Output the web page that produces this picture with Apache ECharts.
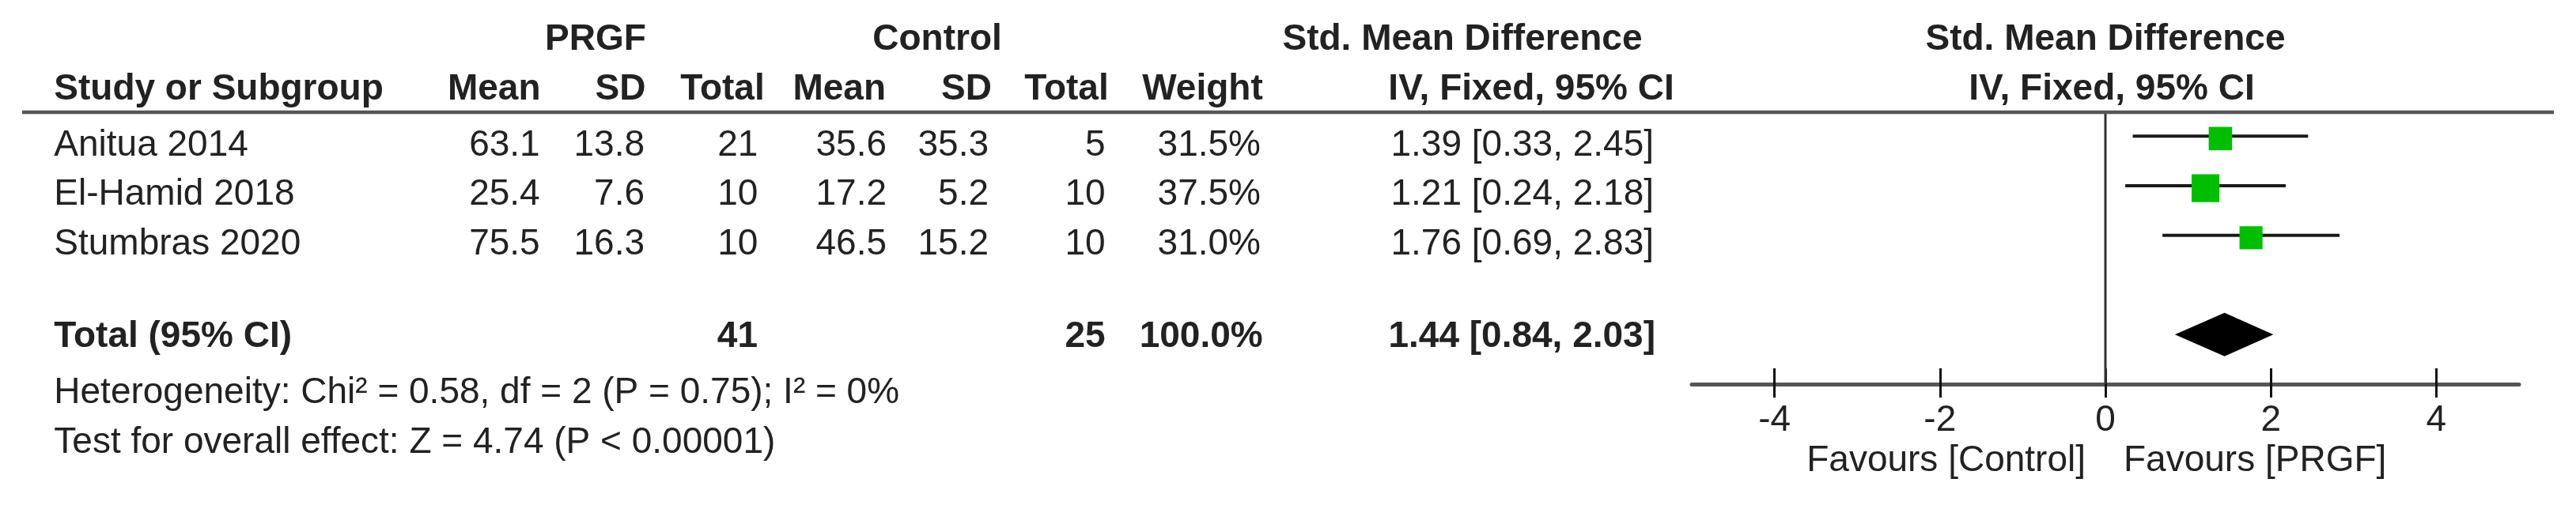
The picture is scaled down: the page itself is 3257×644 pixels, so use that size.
<!DOCTYPE html>
<html>
<head>
<meta charset="utf-8">
<script src="https://cdn.jsdelivr.net/npm/echarts@6/dist/echarts.min.js"></script>
<style>
html,body{margin:0;padding:0;background:#fff;}
#c{width:3257px;height:644px;}
</style>
</head>
<body>
<div id="c"></div>
<script>
// ---------------- DATA ----------------
const studies   = ['Anitua 2014', 'El-Hamid 2018', 'Stumbras 2020'];
const prgfMean  = [63.1, 25.4, 75.5];
const prgfSD    = [13.8, 7.6, 16.3];
const prgfTotal = [21, 10, 10];
const ctrlMean  = [35.6, 17.2, 46.5];
const ctrlSD    = [35.3, 5.2, 15.2];
const ctrlTotal = [5, 10, 10];
const weights   = [31.5, 37.5, 31.0];
const smd       = [1.39, 1.21, 1.76];
const ciLow     = [0.33, 0.24, 0.69];
const ciHigh    = [2.45, 2.18, 2.83];

const totalLabel  = 'Total (95% CI)';
const totalPrgf   = 41;
const totalCtrl   = 25;
const totalWeight = 100.0;
const pooledEst   = 1.44;
const pooledLow   = 0.84;
const pooledHigh  = 2.03;

const xTicks = [-4, -2, 0, 2, 4];
const xRange = [-5, 5];

const groupHeaders  = ['PRGF', 'Control', 'Std. Mean Difference', 'Std. Mean Difference'];
const columnHeaders = ['Study or Subgroup', 'Mean', 'SD', 'Total', 'Mean', 'SD', 'Total', 'Weight', 'IV, Fixed, 95% CI', 'IV, Fixed, 95% CI'];
const heterogeneity = 'Heterogeneity: Chi\u00B2 = 0.58, df = 2 (P = 0.75); I\u00B2 = 0%';
const overallEffect = 'Test for overall effect: Z = 4.74 (P < 0.00001)';
const favourLeft  = 'Favours [Control]';
const favourRight = 'Favours [PRGF]';

// ---------------- STYLE / LAYOUT ----------------
const FONT = "'Liberation Sans', Arial, Helvetica, sans-serif";
const FS = 46;
const TXT = '#222';
const GREEN = '#00bf00';
const SQUARE_PER_WEIGHT = 0.94;   // px of square side per % weight
const DIAMOND_HALF = 27.5;

const fmt2 = v => v.toFixed(2);
const ciText = (e, l, h) => fmt2(e) + ' [' + fmt2(l) + ', ' + fmt2(h) + ']';

const studyRows = studies.map((s, i) => i + 1);
const totalRow = studies.length + 2;

const chart = echarts.init(document.getElementById('c'), null, {renderer: 'canvas'});

const option = {
  animation: false,
  backgroundColor: '#fff',
  grid: {left: 2139, right: 72, top: 141, bottom: 158, containLabel: false},
  xAxis: [{
    type: 'value', min: xRange[0], max: xRange[1], position: 'bottom',
    axisLine: {show: true, lineStyle: {color: '#555', width: 5}},
    axisTick: {show: true, customValues: xTicks, length: 17, lineStyle: {color: '#111', width: 3}},
    axisLabel: {show: true, customValues: xTicks, margin: 23, fontSize: FS, fontFamily: FONT, color: TXT},
    splitLine: {show: false}
  }, {
    type: 'value', min: xRange[0], max: xRange[1], position: 'bottom',
    axisLine: {show: false},
    axisTick: {show: true, inside: true, customValues: xTicks, length: 20, lineStyle: {color: '#111', width: 3}},
    axisLabel: {show: false},
    splitLine: {show: false}
  }],
  yAxis: {type: 'value', min: 0.5, max: totalRow + 1, inverse: true, show: false},
  series: [
    { // line of no effect
      type: 'custom', clip: false, z: 1,
      data: [[0, 0.5, totalRow + 1]],
      renderItem: (params, api) => {
        const a = api.coord([api.value(0), api.value(1)]);
        const b = api.coord([api.value(0), api.value(2)]);
        return {type: 'line', shape: {x1: a[0], y1: a[1], x2: b[0], y2: b[1]},
                style: {stroke: '#333', lineWidth: 3}};
      }
    },
    { // study CIs and weight squares
      type: 'custom', clip: false, z: 3,
      data: studies.map((s, i) => [smd[i], studyRows[i], ciLow[i], ciHigh[i], weights[i]]),
      renderItem: (params, api) => {
        const row = api.value(1);
        const p = api.coord([api.value(0), row]);
        const l = api.coord([api.value(2), row]);
        const h = api.coord([api.value(3), row]);
        const sz = api.value(4) * SQUARE_PER_WEIGHT;
        return {type: 'group', children: [
          {type: 'line', shape: {x1: l[0], y1: l[1], x2: h[0], y2: h[1]},
           style: {stroke: '#1a1a1a', lineWidth: 4}},
          {type: 'rect', shape: {x: p[0] - sz / 2, y: p[1] + 3 - sz / 2, width: sz, height: sz},
           style: {fill: GREEN}}
        ]};
      }
    },
    { // pooled diamond
      type: 'custom', clip: false, z: 3,
      data: [[pooledEst, totalRow, pooledLow, pooledHigh]],
      renderItem: (params, api) => {
        const row = api.value(1);
        const c = api.coord([api.value(0), row]);
        const l = api.coord([api.value(2), row]);
        const h = api.coord([api.value(3), row]);
        return {type: 'polygon', shape: {points: [
          [l[0], l[1]], [c[0], c[1] - DIAMOND_HALF], [h[0], h[1]], [c[0], c[1] + DIAMOND_HALF]
        ]}, style: {fill: '#000'}};
      }
    }
  ]
};
chart.setOption(option);

// ---------------- TABLE TEXT ----------------
const yPx = r => chart.convertToPixel({yAxisIndex: 0}, r);
const xPx = v => chart.convertToPixel({xAxisIndex: 0}, v);

function T(x, y, text, align, bold) {
  return {type: 'text', x: x, y: y, silent: true, z: 10,
    style: {text: String(text), fill: TXT, fontSize: FS, fontFamily: FONT,
            fontWeight: bold ? 'bold' : 'normal', align: align, verticalAlign: 'middle'}};
}

const Y_GROUP = 50.5, Y_HEAD = 113.3, Y_HET = 497, Y_TEST = 560, Y_FAV = 583.5;
const STUDY_TEXT_DY = 11.5, TOTAL_TEXT_DY = 3.5;
const LEFT = 68.3;
const HCOL = [683.5, 816.5, 966.7, 1120, 1254, 1401.7, 1596.7, 2116.7];
const DCOL = [682.7, 815, 958.3, 1121, 1250, 1397.7, 1594, 2091];
const TCOL = {prgfTot: 958, ctrlTot: 1397.7, w: 1596.7, ci: 2093};
const zeroX = xPx(0);

const g = [];
// header rule
g.push({type: 'line', shape: {x1: 28, y1: 142, x2: 3229, y2: 142}, style: {stroke: '#555', lineWidth: 4.5}, z: 5});
// group headers
g.push(T(753, Y_GROUP, groupHeaders[0], 'center', true));
g.push(T(1185, Y_GROUP, groupHeaders[1], 'center', true));
g.push(T(1849, Y_GROUP, groupHeaders[2], 'center', true));
g.push(T(zeroX, Y_GROUP, groupHeaders[3], 'center', true));
// column headers
g.push(T(LEFT, Y_HEAD, columnHeaders[0], 'left', true));
for (let k = 1; k <= 8; k++) g.push(T(HCOL[k - 1], Y_HEAD, columnHeaders[k], 'right', true));
g.push(T(zeroX + 8, Y_HEAD, columnHeaders[9], 'center', true));
// study rows
studies.forEach((s, i) => {
  const y = yPx(studyRows[i]) + STUDY_TEXT_DY;
  g.push(T(LEFT, y, s, 'left', false));
  const vals = [prgfMean[i].toFixed(1), prgfSD[i].toFixed(1), prgfTotal[i],
                ctrlMean[i].toFixed(1), ctrlSD[i].toFixed(1), ctrlTotal[i],
                weights[i].toFixed(1) + '%', ciText(smd[i], ciLow[i], ciHigh[i])];
  vals.forEach((v, k) => g.push(T(DCOL[k], y, v, 'right', false)));
});
// total row
const yt = yPx(totalRow) + TOTAL_TEXT_DY;
g.push(T(LEFT, yt, totalLabel, 'left', true));
g.push(T(TCOL.prgfTot, yt, totalPrgf, 'right', true));
g.push(T(TCOL.ctrlTot, yt, totalCtrl, 'right', true));
g.push(T(TCOL.w, yt, totalWeight.toFixed(1) + '%', 'right', true));
g.push(T(TCOL.ci, yt, ciText(pooledEst, pooledLow, pooledHigh), 'right', true));
// footnotes
g.push(T(LEFT, Y_HET, heterogeneity, 'left', false));
g.push(T(LEFT, Y_TEST, overallEffect, 'left', false));
// favours labels
g.push(T(zeroX - 25, Y_FAV, favourLeft, 'right', false));
g.push(T(zeroX + 23, Y_FAV, favourRight, 'left', false));

chart.setOption({graphic: {elements: g}});
</script>
</body>
</html>
